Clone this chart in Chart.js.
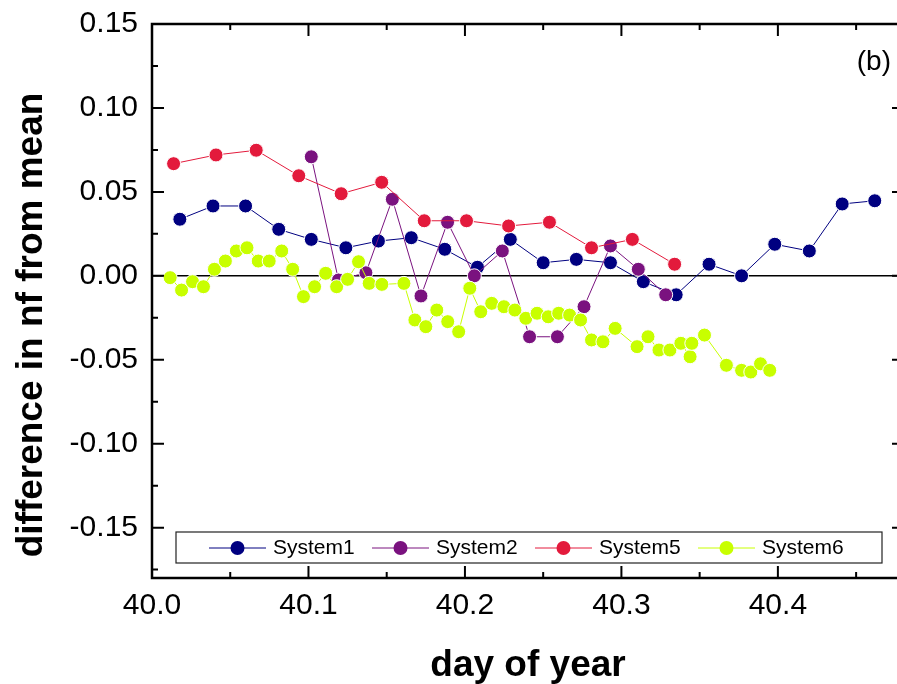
<!DOCTYPE html>
<html><head><meta charset="utf-8">
<script src="https://cdn.jsdelivr.net/npm/chart.js@4.4.1/dist/chart.umd.min.js"></script>
<style>html,body{margin:0;padding:0;overflow:hidden;background:#fff;width:897px;height:684px}canvas{display:block}</style>
</head><body><canvas id="c" width="912" height="684"></canvas>
<script>
// ---- data ----
const seriesNames = ['System1', 'System2', 'System5', 'System6'];

const sys1X = [40.0178, 40.0390, 40.0598, 40.0810, 40.1018, 40.1239, 40.1447, 40.1657, 40.1871, 40.2080, 40.2290, 40.2500, 40.2712, 40.2930, 40.3140, 40.3350, 40.3560, 40.3768, 40.3980, 40.4201, 40.4411, 40.4619];
const sys1Y = [0.0337, 0.0416, 0.0416, 0.0277, 0.0217, 0.0167, 0.0207, 0.0227, 0.0158, 0.0051, 0.0217, 0.0078, 0.0098, 0.0078, -0.0035, -0.0113, 0.0069, 0.0000, 0.0188, 0.0148, 0.0428, 0.0447];

const sys2X = [40.1018, 40.1192, 40.1367, 40.1536, 40.1719, 40.1889, 40.2060, 40.2239, 40.2413, 40.2591, 40.2761, 40.2930, 40.3108, 40.3283];
const sys2Y = [0.0709, -0.0025, 0.0018, 0.0456, -0.0120, 0.0319, 0.0000, 0.0148, -0.0363, -0.0363, -0.0184, 0.0178, 0.0039, -0.0113];

const sys5X = [40.0138, 40.0409, 40.0666, 40.0938, 40.1209, 40.1468, 40.1740, 40.2010, 40.2279, 40.2540, 40.2809, 40.3070, 40.3340];
const sys5Y = [0.0668, 0.0720, 0.0748, 0.0596, 0.0489, 0.0557, 0.0328, 0.0328, 0.0297, 0.0319, 0.0167, 0.0217, 0.0069];

const sys6X = [40.0116, 40.0189, 40.0259, 40.0329, 40.0399, 40.0469, 40.0539, 40.0607, 40.0679, 40.0749, 40.0829, 40.0899, 40.0968, 40.1039, 40.1110, 40.1180, 40.1250, 40.1320, 40.1388, 40.1469, 40.1610, 40.1680, 40.1750, 40.1820, 40.1890, 40.1960, 40.2031, 40.2101, 40.2171, 40.2249, 40.2319, 40.2389, 40.2461, 40.2532, 40.2599, 40.2669, 40.2739, 40.2809, 40.2882, 40.2960, 40.3100, 40.3170, 40.3240, 40.3310, 40.3380, 40.3439, 40.3450, 40.3531, 40.3671, 40.3768, 40.3827, 40.3889, 40.3948];
const sys6Y = [-0.0011, -0.0085, -0.0035, -0.0065, 0.0039, 0.0088, 0.0148, 0.0167, 0.0088, 0.0088, 0.0148, 0.0039, -0.0124, -0.0065, 0.0015, -0.0065, -0.0021, 0.0084, -0.0045, -0.0051, -0.0045, -0.0263, -0.0303, -0.0204, -0.0273, -0.0333, -0.0074, -0.0214, -0.0164, -0.0184, -0.0204, -0.0253, -0.0223, -0.0244, -0.0223, -0.0234, -0.0263, -0.0382, -0.0393, -0.0313, -0.0422, -0.0363, -0.0442, -0.0442, -0.0402, -0.0482, -0.0402, -0.0353, -0.0533, -0.0563, -0.0573, -0.0524, -0.0563];

const xTicks = [40.0, 40.1, 40.2, 40.3, 40.4];
const xMinorTicks = [40.05, 40.15, 40.25, 40.35, 40.45];
const yTicks = [-0.15, -0.10, -0.05, 0.00, 0.05, 0.10, 0.15];
const yMinorTicks = [-0.175, -0.125, -0.075, -0.025, 0.025, 0.075, 0.125];

const xTitle = 'day of year';
const yTitle = 'difference in nf from mean';
const panelLabel = '(b)';

// ---- styling ----
const colors = ['#000080', '#7a127f', '#e31a3c', '#c8ff00'];
const FONT = "'Liberation Sans', Arial, Helvetica, sans-serif";
const seriesX = [sys1X, sys2X, sys5X, sys6X];
const seriesY = [sys1Y, sys2Y, sys5Y, sys6Y];

const datasets = seriesNames.map((name, i) => ({
  label: name,
  data: seriesX[i].map((x, k) => ({x: x, y: seriesY[i][k]})),
  showLine: true,
  borderColor: colors[i],
  backgroundColor: colors[i],
  borderWidth: 1,
  pointRadius: 7,
  pointHoverRadius: 7,
  pointBackgroundColor: colors[i],
  pointBorderColor: '#ffffff',
  pointBorderWidth: 1,
  tension: 0,
  fill: false,
  order: seriesNames.length - 1 - i
}));

const framePlugin = {
  id: 'frame',
  beforeDatasetsDraw(chart) {
    const {ctx, chartArea: a, scales: {y}} = chart;
    const y0 = y.getPixelForValue(0);
    ctx.save();
    ctx.strokeStyle = '#000';
    ctx.lineWidth = 1.5;
    ctx.beginPath();
    ctx.moveTo(a.left, y0);
    ctx.lineTo(a.right, y0);
    ctx.stroke();
    ctx.restore();
  },
  afterDraw(chart) {
    const {ctx, chartArea: a, scales: {x, y}} = chart;
    ctx.save();
    // ticks (inward)
    ctx.strokeStyle = '#000';
    ctx.lineWidth = 2;
    const MAJ = 12, MIN = 6;
    ctx.beginPath();
    xTicks.forEach(v => { const p = x.getPixelForValue(v); ctx.moveTo(p, a.bottom); ctx.lineTo(p, a.bottom - MAJ); ctx.moveTo(p, a.top); ctx.lineTo(p, a.top + MAJ); });
    xMinorTicks.forEach(v => { const p = x.getPixelForValue(v); ctx.moveTo(p, a.bottom); ctx.lineTo(p, a.bottom - MIN); ctx.moveTo(p, a.top); ctx.lineTo(p, a.top + MIN); });
    yTicks.forEach(v => { const p = y.getPixelForValue(v); ctx.moveTo(a.left, p); ctx.lineTo(a.left + MAJ, p); ctx.moveTo(a.right, p); ctx.lineTo(a.right - MAJ, p); });
    yMinorTicks.forEach(v => { const p = y.getPixelForValue(v); ctx.moveTo(a.left, p); ctx.lineTo(a.left + MIN, p); ctx.moveTo(a.right, p); ctx.lineTo(a.right - MIN, p); });
    ctx.stroke();
    // frame
    ctx.lineWidth = 2.5;
    ctx.strokeRect(a.left, a.top, a.right - a.left, a.bottom - a.top);

    // legend box
    const bx = a.left + 24, by = a.bottom - 46, bw = 706, bh = 31;
    ctx.fillStyle = '#fff';
    ctx.fillRect(bx, by, bw, bh);
    ctx.lineWidth = 1.2;
    ctx.strokeStyle = '#222';
    ctx.strokeRect(bx, by, bw, bh);
    ctx.font = '21px ' + FONT;
    ctx.textBaseline = 'middle';
    ctx.textAlign = 'left';
    const cy = by + bh / 2 + 0.5;
    chart.data.datasets.forEach((ds, i) => {
      const sx = bx + 33 + i * 163;
      ctx.strokeStyle = ds.borderColor;
      ctx.lineWidth = 1;
      ctx.beginPath(); ctx.moveTo(sx, cy); ctx.lineTo(sx + 57, cy); ctx.stroke();
      ctx.fillStyle = ds.pointBackgroundColor;
      ctx.beginPath(); ctx.arc(sx + 28.5, cy, 7, 0, Math.PI * 2); ctx.fill();
      ctx.fillStyle = '#000';
      ctx.fillText(ds.label, sx + 64, cy);
    });

    // panel label
    ctx.font = '28px ' + FONT;
    ctx.textAlign = 'right';
    ctx.textBaseline = 'middle';
    ctx.fillStyle = '#000';
    ctx.fillText(panelLabel, 891, 62);

    // y axis title
    ctx.translate(42, 325);
    ctx.rotate(-Math.PI / 2);
    ctx.font = 'bold 37px ' + FONT;
    ctx.textAlign = 'center';
    ctx.textBaseline = 'alphabetic';
    ctx.fillText(yTitle, 0, 0);
    ctx.restore();
  }
};

new Chart(document.getElementById('c'), {
  type: 'scatter',
  data: {datasets: datasets},
  options: {
    responsive: false,
    animation: false,
    devicePixelRatio: 1,
    layout: {padding: {top: 24, right: 5, left: 0, bottom: 0}},
    plugins: {legend: {display: false}, tooltip: {enabled: false}},
    scales: {
      x: {
        type: 'linear', position: 'bottom', min: 40.0, max: 40.4806,
        grid: {display: false, drawTicks: false}, border: {display: false},
        ticks: {color: '#000', font: {family: FONT, size: 30}, padding: 10, maxRotation: 0, autoSkip: false,
                callback: v => Number(v).toFixed(1)},
        afterBuildTicks: s => { s.ticks = xTicks.map(v => ({value: v})); },
        afterFit: s => { s.height = 106; s.paddingLeft = 0; s.paddingRight = 0; },
        title: {display: true, text: xTitle, color: '#000', font: {family: FONT, size: 37, weight: 'bold', lineHeight: 1}, padding: {top: 0, bottom: 0}}
      },
      y: {
        type: 'linear', min: -0.18, max: 0.15,
        grid: {display: false, drawTicks: false}, border: {display: false},
        ticks: {color: '#000', font: {family: FONT, size: 30}, padding: 14, autoSkip: false,
                callback: v => Number(v).toFixed(2)},
        afterBuildTicks: s => { s.ticks = yTicks.map(v => ({value: v})); },
        afterFit: s => { s.width = 152; s.paddingTop = 0; s.paddingBottom = 0; }
      }
    }
  },
  plugins: [framePlugin]
});
</script>
</body></html>
